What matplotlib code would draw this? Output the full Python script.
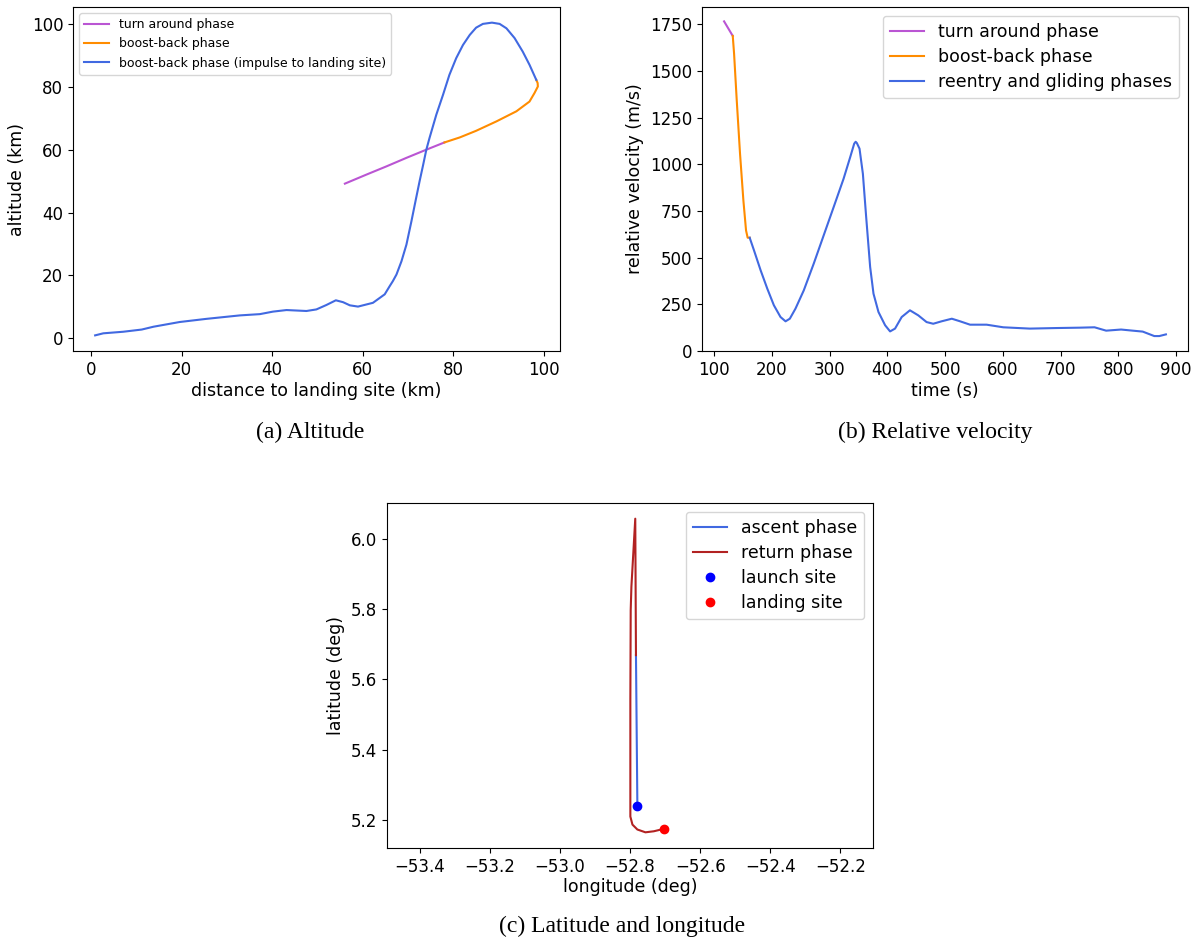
import matplotlib
matplotlib.use('Agg')
import matplotlib.pyplot as plt

# (a) altitude vs distance to landing site (km)
turn_dist = [56.1, 60.9, 65.3, 69.7, 74.1, 78.1]
turn_alt = [49.2, 52.1, 54.7, 57.4, 60.0, 62.3]
boost_dist = [78.1, 81.5, 85.1, 89.6, 94.0, 96.9, 98.0, 98.75, 98.7, 98.4]
boost_alt = [62.3, 63.9, 66.0, 69.0, 72.2, 75.3, 78.0, 80.1, 81.2, 82.2]
impulse_dist = [98.4, 96.9, 95.4, 93.6, 91.8, 90.3, 88.6, 86.6, 85.1, 83.7, 82.2,
                80.7, 79.2, 77.8, 76.3, 74.8, 74.1, 73.4, 72.6, 71.7, 70.8, 69.7,
                68.6, 67.5, 66.7, 66.0, 64.9, 62.3, 59.0, 57.2, 55.7,
                54.1, 52.0, 49.8, 47.6, 43.2, 40.2, 37.3, 32.9, 25.5, 19.6, 13.8,
                11.2, 7.1, 2.7, 0.9]
impulse_alt = [82.2, 87.0, 91.2, 95.5, 98.6, 100.0, 100.4, 100.0, 98.8, 96.5, 93.3,
               89.1, 83.8, 77.5, 71.1, 63.7, 60.0, 55.2, 49.9, 43.6, 37.2, 29.8,
               24.5, 20.3, 18.2, 16.6, 14.0, 11.3, 10.1, 10.5, 11.5,
               12.1, 10.6, 9.2, 8.7, 9.0, 8.5, 7.7, 7.3, 6.2, 5.2, 3.7,
               2.8, 2.1, 1.6, 0.95]

# (b) relative velocity vs time
turn_t = [117.2, 132.2]
turn_v = [1766, 1688]
boost_t = [132.2, 134.5, 139.1, 144.8, 150.6, 155.2, 158.0, 161.5]
boost_v = [1688, 1593, 1343, 1057, 807, 646, 607, 607]
glide_t = [161.5, 169.0, 180.5, 192.0, 203.4, 214.9, 223.6, 231.0, 240.8, 255.2,
           272.4, 289.7, 306.9, 324.1, 335.6, 342.5, 345.0, 347.1, 351.7, 357.5, 363.2,
           370.1, 375.9, 384.5, 396.0, 404.6, 413.2, 424.7, 439.0, 453.4, 467.8,
           479.3, 493.7, 511.5, 525.9, 543.1, 571.8, 600.6, 646.6, 692.5, 732.8,
           758.6, 778.7, 804.6, 824.7, 842.0, 862.1, 870.7, 882.2]
glide_v = [607, 539, 432, 334, 245, 182, 159, 173, 227, 325,
           468, 620, 771, 923, 1039, 1111, 1121, 1114, 1084, 950, 718,
           450, 307, 209, 138, 105, 120, 182, 218, 191, 155,
           146, 159, 173, 159, 141, 141, 127, 120, 123, 125,
           127, 109, 115, 109, 104, 80, 80, 89]

# (c) ground track (deg)
ascent_lon = [-52.779, -52.783]
ascent_lat = [5.240, 5.669]
return_lon = [-52.783, -52.785, -52.796, -52.798, -52.799, -52.799, -52.793,
              -52.779, -52.756, -52.732, -52.703]
return_lat = [5.669, 6.058, 5.864, 5.797, 5.541, 5.209, 5.186,
              5.172, 5.164, 5.167, 5.174]
launch_lon, launch_lat = -52.779, 5.240
landing_lon, landing_lat = -52.703, 5.174

W, H = 1200, 943
fig = plt.figure(figsize=(W / 100, H / 100), dpi=100)


def px_axes(left, top, right, bottom):
    return fig.add_axes([left / W, 1 - bottom / H, (right - left) / W, (bottom - top) / H])


tick_fs = 12
label_fs = 12.5
cap_font = dict(family='Liberation Serif', fontsize=17)

# altitude
ax_a = px_axes(73, 7, 560, 351)
ax_a.plot(turn_dist, turn_alt, color='mediumorchid', label='turn around phase')
ax_a.plot(boost_dist, boost_alt, color='darkorange', label='boost-back phase')
ax_a.plot(impulse_dist, impulse_alt, color='royalblue',
          label='boost-back phase (impulse to landing site)')
ax_a.set_xlabel('distance to landing site (km)', fontsize=label_fs, labelpad=2)
ax_a.set_ylabel('altitude (km)', fontsize=label_fs)
ax_a.tick_params(labelsize=tick_fs)
ax_a.legend(loc='upper left', fontsize=9)
fig.text(310 / W, 1 - 432 / H, '(a) Altitude', ha='center', va='center', **cap_font)

# relative velocity
ax_b = px_axes(702, 7, 1188, 351)
ax_b.plot(turn_t, turn_v, color='mediumorchid', label='turn around phase')
ax_b.plot(boost_t, boost_v, color='darkorange', label='boost-back phase')
ax_b.plot(glide_t, glide_v, color='royalblue', label='reentry and gliding phases')
ax_b.set_ylim(0, 1843)
ax_b.set_xlabel('time (s)', fontsize=label_fs, labelpad=2)
ax_b.set_ylabel('relative velocity (m/s)', fontsize=label_fs)
ax_b.tick_params(labelsize=tick_fs)
ax_b.legend(loc='upper right', fontsize=12.5, labelspacing=0.42)
fig.text(935 / W, 1 - 432 / H, '(b) Relative velocity', ha='center', va='center', **cap_font)

# latitude / longitude
ax_c = px_axes(387, 503, 873, 848)
ax_c.plot(ascent_lon, ascent_lat, color='royalblue', label='ascent phase')
ax_c.plot(return_lon, return_lat, color='firebrick', label='return phase')
ax_c.plot(launch_lon, launch_lat, 'o', color='blue', label='launch site')
ax_c.plot(landing_lon, landing_lat, 'o', color='red', label='landing site')
ax_c.set_aspect('equal', adjustable='datalim')
ax_c.set_xticks([-53.4, -53.2, -53.0, -52.8, -52.6, -52.4, -52.2])
ax_c.set_xlabel('longitude (deg)', fontsize=label_fs, labelpad=2)
ax_c.set_ylabel('latitude (deg)', fontsize=label_fs)
ax_c.tick_params(labelsize=tick_fs)
ax_c.legend(loc='upper right', fontsize=12.5, labelspacing=0.42)
fig.text(622 / W, 1 - 926 / H, '(c) Latitude and longitude', ha='center', va='center', **cap_font)

fig.savefig('out.png', dpi=100)
